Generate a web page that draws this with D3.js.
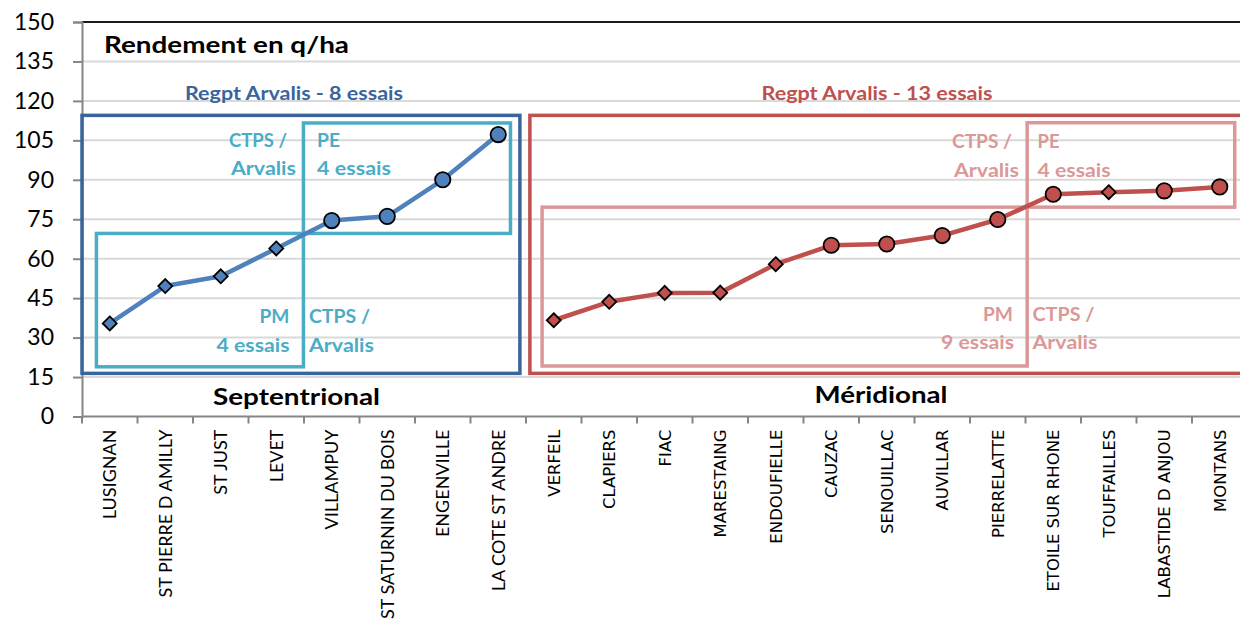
<!DOCTYPE html>
<html>
<head>
<meta charset="utf-8">
<script src="https://cdn.jsdelivr.net/npm/d3@7/dist/d3.min.js"></script>
<style>
  html, body { margin: 0; padding: 0; background: #fff; }
  svg { display: block; }
</style>
</head>
<body>
<svg id="chart" width="1240" height="626"></svg>
<script>
// Yield per trial site (q/ha), northern then southern network
const nordSites = ["LUSIGNAN", "ST PIERRE D AMILLY", "ST JUST", "LEVET", "VILLAMPUY",
  "ST SATURNIN DU BOIS", "ENGENVILLE", "LA COTE ST ANDRE"];
const nordYield = [35.4, 49.6, 53.3, 63.9, 74.5, 76.1, 90.0, 107.2];
const nordShape = ["diamond", "diamond", "diamond", "diamond", "circle", "circle", "circle", "circle"];

const sudSites = ["VERFEIL", "CLAPIERS", "FIAC", "MARESTAING", "ENDOUFIELLE", "CAUZAC",
  "SENOUILLAC", "AUVILLAR", "PIERRELATTE", "ETOILE SUR RHONE", "TOUFFAILLES",
  "LABASTIDE D ANJOU", "MONTANS"];
const sudYield = [36.6, 43.6, 47.0, 47.1, 57.9, 65.1, 65.6, 68.8, 74.9, 84.5, 85.3, 85.8, 87.3];
const sudShape = ["diamond", "diamond", "diamond", "diamond", "diamond", "circle", "circle",
  "circle", "circle", "circle", "diamond", "circle", "circle"];

const yTicks = [0, 15, 30, 45, 60, 75, 90, 105, 120, 135, 150];

const allSites = nordSites.concat(sudSites);

// Colours
const C = {
  grid: "#d9d9d9", axis: "#868686", nordLine: "#4f81bd", sudLine: "#c0504d",
  nordBox: "#3a659c", cyan: "#4bacc6", sudBox: "#c0504d", pink: "#dc9896"
};
const FONT = "Lato, 'Open Sans', sans-serif";

const svg = d3.select("#chart");
const plotLeft = 82, plotTop = 22, plotBottom = 416.5, band = 55.5;

const x = d3.scaleBand().domain(allSites).range([plotLeft, plotLeft + band * allSites.length]).padding(0);
const y = d3.scaleLinear().domain([0, 150]).range([plotBottom, plotTop]);
const cx = s => x(s) + x.bandwidth() / 2;
// fractional category position -> pixel
const xu = u => plotLeft + u * x.bandwidth();

// gridlines
svg.append("g").selectAll("line").data(yTicks.filter(t => t > 0 && t < 150)).join("line")
  .attr("x1", plotLeft).attr("x2", 1240)
  .attr("y1", d => y(d)).attr("y2", d => y(d))
  .attr("stroke", C.grid).attr("stroke-width", 2);
// top border of plot area
svg.append("line").attr("x1", plotLeft).attr("x2", 1240).attr("y1", y(150)).attr("y2", y(150))
  .attr("stroke", "#1a1a1a").attr("stroke-width", 2);

// y axis
const yAxis = svg.append("g").attr("transform", `translate(${plotLeft},0)`)
  .call(d3.axisLeft(y).tickValues(yTicks).tickSize(9).tickPadding(19));
yAxis.select(".domain").attr("stroke", C.axis).attr("stroke-width", 2);
yAxis.selectAll(".tick line").attr("stroke", C.axis).attr("stroke-width", 2);
yAxis.selectAll(".tick text").attr("font-family", FONT).attr("font-size", 23).attr("fill", "#000");

// x axis: ticks on category boundaries
const xAxisG = svg.append("g").attr("transform", `translate(0,${plotBottom})`);
xAxisG.append("line").attr("x1", plotLeft).attr("x2", 1240).attr("stroke", C.axis).attr("stroke-width", 2);
xAxisG.selectAll("line.tk").data(d3.range(allSites.length + 1)).join("line").attr("class", "tk")
  .attr("x1", i => xu(i)).attr("x2", i => xu(i)).attr("y1", 0).attr("y2", 7)
  .attr("stroke", C.axis).attr("stroke-width", 2);

// rotated site labels
xAxisG.selectAll("text.lab").data(allSites).join("text").attr("class", "lab")
  .attr("transform", d => `translate(${cx(d)},13) rotate(-90)`)
  .attr("text-anchor", "end").attr("dy", "0.35em")
  .attr("font-family", d => nordSites.includes(d) ? FONT : "'DejaVu Sans', sans-serif")
  .attr("font-size", d => nordSites.includes(d) ? 18 : 16.5)
  .attr("fill", "#000")
  .text(d => d);

// annotation frames (x in category units, y in q/ha)
const frames = [
  { x0: 0.0, x1: 7.89, y0: 16.4, y1: 114.5, color: C.nordBox, w: 3.5 },
  { x0: 8.07, x1: 21.1, y0: 16.4, y1: 114.5, color: C.sudBox, w: 3.5 },
  { x0: 0.26, x1: 3.99, y0: 18.9, y1: 69.6, color: C.cyan, w: 3.5 },
  { x0: 3.99, x1: 7.72, y0: 69.6, y1: 111.6, color: C.cyan, w: 3.5 },
  { x0: 8.29, x1: 17.03, y0: 19.2, y1: 79.6, color: C.pink, w: 3.5 },
  { x0: 17.03, x1: 20.77, y0: 79.6, y1: 111.7, color: C.pink, w: 3.5 }
];
svg.append("g").selectAll("rect").data(frames).join("rect")
  .attr("x", d => xu(d.x0)).attr("y", d => y(d.y1))
  .attr("width", d => xu(d.x1) - xu(d.x0)).attr("height", d => y(d.y0) - y(d.y1))
  .attr("fill", "none").attr("stroke", d => d.color).attr("stroke-width", d => d.w);

// series lines + markers
function drawSeries(sites, vals, shapes, color) {
  const pts = sites.map((s, i) => ({ s, v: vals[i], shape: shapes[i] }));
  svg.append("path").datum(pts)
    .attr("d", d3.line().x(d => cx(d.s)).y(d => y(d.v)))
    .attr("fill", "none").attr("stroke", color).attr("stroke-width", 4.5)
    .attr("stroke-linejoin", "round");
  const g = svg.append("g");
  g.selectAll("path").data(pts).join("path")
    .attr("transform", d => `translate(${cx(d.s)},${y(d.v)})`)
    .attr("d", d => d.shape === "circle"
      ? d3.symbol(d3.symbolCircle, 185)()
      : "M0,-7L7,0L0,7L-7,0Z")
    .attr("fill", color).attr("stroke", "#000").attr("stroke-width", 1.8);
}
drawSeries(nordSites, nordYield, nordShape, C.nordLine);
drawSeries(sudSites, sudYield, sudShape, C.sudLine);

// texts: x, baseline, size, colour, anchor, set width
function txt(str, px, py, size, fill, anchor, width) {
  const t = svg.append("text").attr("x", px).attr("y", py)
    .attr("font-family", FONT).attr("font-weight", "bold")
    .attr("font-size", size).attr("fill", fill)
    .attr("text-anchor", anchor).text(str);
  if (width) t.attr("textLength", width).attr("lengthAdjust", "spacingAndGlyphs");
}
txt("Rendement en q/ha", 104, 53, 22, "#000", "start", 245);
txt("Regpt Arvalis - 8 essais", 294, 100, 18.5, C.nordBox, "middle", 218);
txt("Regpt Arvalis - 13 essais", 877, 100, 18.5, C.sudBox, "middle", 231);
txt("Septentrional", 296.5, 405, 23, "#000", "middle", 167);
txt("Méridional", 881, 403, 23, "#000", "middle", 133);

// zone labels: text, x, baseline, anchor, colour, width
const zone = [
  ["CTPS /", 287, 147, "end", C.cyan, 58], ["Arvalis", 296, 175, "end", C.cyan, 65],
  ["PE", 317, 147, "start", C.cyan, 23], ["4 essais", 317, 175, "start", C.cyan, 74],
  ["PM", 289.5, 322.5, "end", C.cyan, 30], ["4 essais", 289.5, 351.5, "end", C.cyan, 73],
  ["CTPS /", 309, 322.5, "start", C.cyan, 61], ["Arvalis", 309, 351.5, "start", C.cyan, 65],
  ["CTPS /", 1012, 148, "end", C.pink, 60], ["Arvalis", 1019, 176.5, "end", C.pink, 65],
  ["PE", 1037.5, 148, "start", C.pink, 22], ["4 essais", 1037.5, 176.5, "start", C.pink, 73],
  ["PM", 1013, 320.5, "end", C.pink, 30], ["9 essais", 1014, 349, "end", C.pink, 73],
  ["CTPS /", 1032.5, 320.5, "start", C.pink, 62], ["Arvalis", 1032.5, 349, "start", C.pink, 65]
];
zone.forEach(z => txt(z[0], z[1], z[2], 19.5, z[4], z[3], z[5]));
</script>
</body>
</html>
